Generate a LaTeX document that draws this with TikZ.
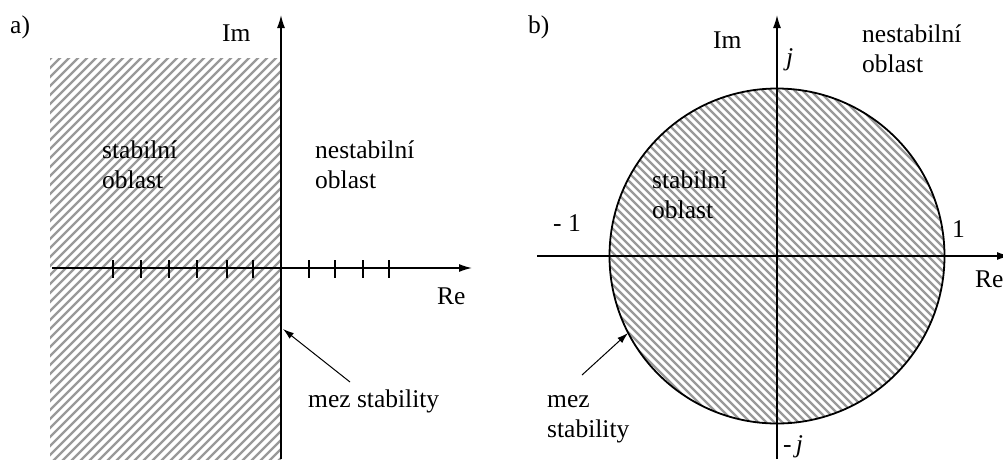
\documentclass[tikz,border=0pt]{standalone}
\usepackage{fontspec}
\setmainfont{Liberation Serif}
\usetikzlibrary{arrows.meta}
\begin{document}
\begin{tikzpicture}[x=1pt,y=-1pt,
 axis/.style={line width=1.4pt, -{Latex[length=13pt,width=8pt]}},
 tickmark/.style={line width=1.4pt},
 lbl/.style={inner sep=0pt, anchor=base west, align=left, font=\fontsize{25.5}{29.5}\selectfont},
 hatch/.style={line width=2.4pt, black!40},
 pointer/.style={line width=1pt, -{Latex[length=11pt,width=7pt]}}]
\useasboundingbox (0,0) rectangle (1003,459);
% ---------- panel a ----------
\begin{scope}
\clip (50,58) rectangle (281,459);
\foreach \c in {100,109,...,760} \draw[hatch] (\c-500,500) -- (\c,0);
\end{scope}
\coordinate (aRe0) at (52,268);
\coordinate (aRe1) at (472,268);
\coordinate (aIm0) at (281,459);
\coordinate (aIm1) at (281,15);
\draw[axis] (aRe0) -- (aRe1);
\draw[axis] (aIm0) -- (aIm1);
\foreach \x in {113,141,169,197,227,253,309,335,363,389}
  \draw[tickmark] (\x,260) -- (\x,278);
\node[lbl] (alab) at (10,33) {a)};
\node[lbl] (aim) at (222,41) {Im};
\node[lbl] (are) at (437,304) {Re};
\node[lbl] (astab) at (102,188) {stabilní\\oblast};
\node[lbl] (anest) at (315,188) {nestabilní\\oblast};
\node[lbl] (amez) at (308,407) {mez stability};
\coordinate (atail) at (350,382);
\coordinate (atip) at (283,329);
\draw[pointer] (atail) -- (atip);
% ---------- panel b ----------
\begin{scope}
\clip (777,256) circle[radius=167.5pt];
\foreach \c in {-200,-192,...,870} \draw[hatch] (\c,0) -- (\c+500,500);
\end{scope}
\draw[line width=1.8pt] (777,256) circle[radius=167.5pt];
\coordinate (bRe0) at (537,256);
\coordinate (bRe1) at (1010,256);
\coordinate (bIm0) at (777,459);
\coordinate (bIm1) at (777,15);
\draw[axis] (bRe0) -- (bRe1);
\draw[axis] (bIm0) -- (bIm1);
\node[lbl] (blab) at (528,33) {b)};
\node[lbl] (bim) at (713,48) {Im};
\node[lbl] (bj) at (786,65) {\itshape j};
\node[lbl] (bnest) at (862,72) {nestabilní\\oblast};
\node[lbl] (bstab) at (652,218) {stabilní\\oblast};
\node[lbl] (bm1) at (553,231) {- 1};
\node[lbl] (bp1) at (952,237) {1};
\node[lbl] (bre) at (975,287) {Re};
\node[lbl] (bmj) at (783,452) {-\,\itshape j};
\node[lbl] (bmez) at (547,437) {mez\\stability};
\coordinate (btail) at (582,375);
\coordinate (btip) at (628,333);
\draw[pointer] (btail) -- (btip);
\end{tikzpicture}
\end{document}
